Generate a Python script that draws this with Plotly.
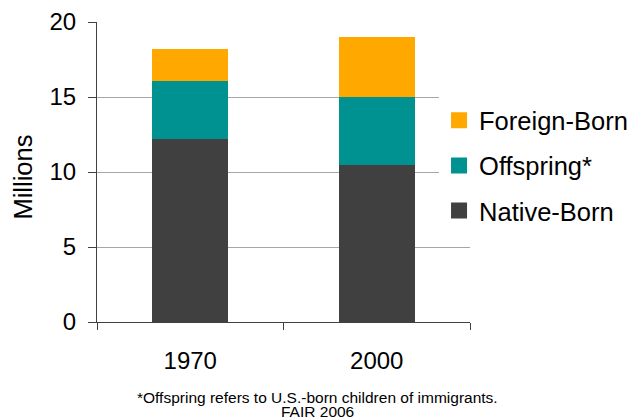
import plotly.graph_objects as go

years = ["1970", "2000"]
native_born = [12.2, 10.5]
offspring = [3.9, 4.5]
foreign_born = [2.1, 4.0]
series_names = ["Native-Born", "Offspring*", "Foreign-Born"]
colors = ["#404040", "#009191", "#FFA800"]
y_ticks = [0, 5, 10, 15, 20]

FONT = "Liberation Sans, Arial, sans-serif"

fig = go.Figure()
for name, vals, col in zip(series_names, [native_born, offspring, foreign_born], colors):
    fig.add_trace(go.Bar(x=years, y=vals, name=name, marker=dict(color=col, line=dict(width=0)),
                         width=0.41, showlegend=False))
# legend entries with larger square markers (top to bottom: Foreign, Offspring, Native)
for name, col in reversed(list(zip(series_names, colors))):
    fig.add_trace(go.Scatter(x=[None], y=[None], mode="markers", name=name, legendgroup=name,
                             marker=dict(symbol="square", size=16, color=col)))

fig.update_layout(
    width=629, height=411,
    barmode="stack",
    paper_bgcolor="white", plot_bgcolor="white",
    margin=dict(l=89, r=167, t=14, b=97, autoexpand=False),
    font=dict(family=FONT, size=24, color="black"),
    legend=dict(x=0.917, xanchor="left", y=0.521, yanchor="middle",
                bgcolor="white", font=dict(size=25.5), traceorder="grouped",
                itemsizing="trace", tracegroupgap=9),
    xaxis=dict(showline=True, linecolor="#404040", linewidth=1,
               ticks="outside", tickson="boundaries", ticklen=7, tickcolor="#404040",
               tickfont=dict(size=24), showgrid=False, ticklabelstandoff=17),
    yaxis=dict(range=[0, 20], tickvals=y_ticks, showline=True, linecolor="#404040", linewidth=1,
               ticks="outside", ticklen=8, tickcolor="#404040",
               showgrid=True, gridcolor="#A6A6A6", gridwidth=1,
               tickfont=dict(size=24), zeroline=False, ticklabelstandoff=7),
    annotations=[
        dict(text="Millions", textangle=-90,
             xref="paper", yref="paper", x=-0.199, y=0.484, xanchor="center", yanchor="middle",
             showarrow=False, font=dict(size=25.5)),
        dict(text="*Offspring refers to U.S.-born children of immigrants.",
             xref="paper", yref="paper", x=0.59, y=-0.252, xanchor="center", yanchor="middle",
             showarrow=False, font=dict(size=15.5)),
        dict(text="FAIR 2006",
             xref="paper", yref="paper", x=0.59, y=-0.299, xanchor="center", yanchor="middle",
             showarrow=False, font=dict(size=15.5)),
    ],
)

fig.write_html("out.html")
